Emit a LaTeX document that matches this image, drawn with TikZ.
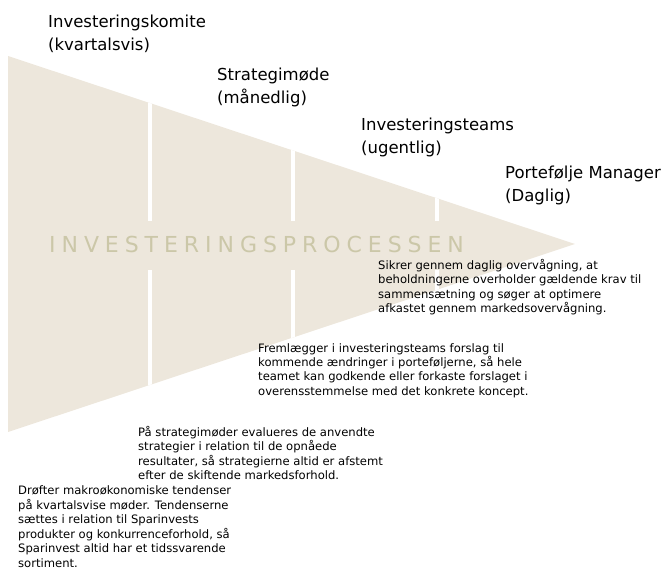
\documentclass[tikz,border=0pt]{standalone}
\usepackage{fontspec}
\setmainfont{DejaVu Sans}
\newfontfamily\spacedfont[LetterSpace=27]{DejaVu Sans}
\definecolor{sand}{RGB}{237,231,220}
\definecolor{khaki}{RGB}{203,199,168}
\begin{document}
\begin{tikzpicture}[
    x=1pt, y=-1pt,
    title/.style={anchor=base west, align=left, inner sep=0pt, font=\fontsize{16.5}{23}\selectfont},
    body/.style={anchor=base west, align=left, inner sep=0pt, font=\fontsize{11.6}{14.5}\selectfont},
    divider/.style={white, line width=4pt}
]
\useasboundingbox (0,0) rectangle (667,577);

% Funnel
\fill[sand] (8,56) -- (575,244) -- (8,432) -- cycle;

% Dividers
\begin{scope}
  \clip (8,56) -- (575,244) -- (8,432) -- cycle;
  \foreach \x in {150,293,437} {
    \draw[divider] (\x,40) -- (\x,221);
    \draw[divider] (\x,270) -- (\x,450);
  }
\end{scope}

% Process label
\node[anchor=west, inner sep=0pt, text=khaki, font=\spacedfont\fontsize{22}{22}\selectfont] (process) at (49,244) {INVESTERINGSPROCESSEN};

% Meeting titles (placed at last baseline)
\node[title] (komite) at (48,51) {Investeringskomite\\(kvartalsvis)};
\node[title] (strategi) at (217,104) {Strategimøde\\(månedlig)};
\node[title] (teams) at (361,154) {Investeringsteams\\(ugentlig)};
\node[title] (manager) at (505,202) {Portefølje Manager\\(Daglig)};

% Descriptions
\node[body] (daglig) at (378,313) {Sikrer gennem daglig overvågning, at\\beholdningerne overholder gældende krav til\\sammensætning og søger at optimere\\afkastet gennem markedsovervågning.};
\node[body] (ugentlig) at (258,395.5) {Fremlægger i investeringsteams forslag til\\kommende ændringer i porteføljerne, så hele\\teamet kan godkende eller forkaste forslaget i\\overensstemmelse med det konkrete koncept.};
\node[body] (maanedlig) at (138,479.5) {På strategimøder evalueres de anvendte\\strategier i relation til de opnåede\\resultater, så strategierne altid er afstemt\\efter de skiftende markedsforhold.};
\node[body] (kvartal) at (18,567) {Drøfter makroøkonomiske tendenser\\på kvartalsvise møder. Tendenserne\\sættes i relation til Sparinvests\\produkter og konkurrenceforhold, så\\Sparinvest altid har et tidssvarende\\sortiment.};

\end{tikzpicture}
\end{document}
